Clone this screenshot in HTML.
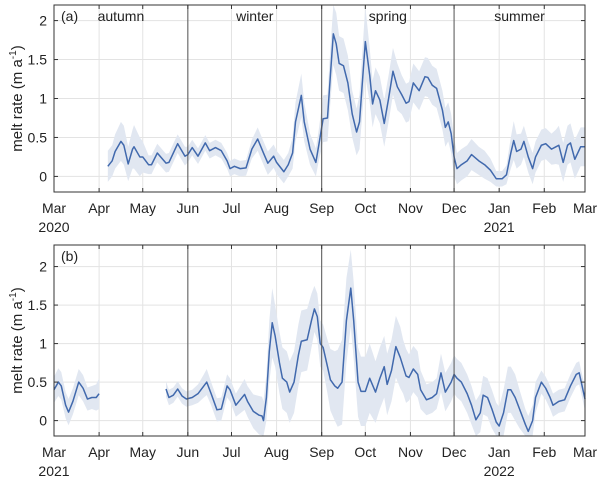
<!DOCTYPE html>
<html><head><meta charset="utf-8"><style>
body{margin:0;background:#fff;font-family:"Liberation Sans",sans-serif;}
svg text{font-family:"Liberation Sans",sans-serif;fill:#222;}
</style></head><body>
<svg id="c" width="600" height="480"></svg>
<script>
const monthLabels=["Mar","Apr","May","Jun","Jul","Aug","Sep","Oct","Nov","Dec","Jan","Feb","Mar"];
const monthDaysA=[0,31,61,92,122,153,184,214,245,275,306,337,365];
const monthDaysB=[0,31,61,92,122,153,184,214,245,275,306,337,365];
const yTicks=[0,0.5,1,1.5,2];
const seasonNames=["autumn","winter","spring","summer"];
const seasonDays=[0,92,184,275,365];
// [day since Mar 1, melt rate, uncertainty]
const seriesA=[[37,0.13,0.2],[40,0.2,0.2],[42,0.32,0.22],[46,0.45,0.25],[48,0.4,0.25],[51,0.16,0.22],[54,0.35,0.25],[55,0.38,0.28],[59,0.25,0.25],[61,0.25,0.2],[65,0.15,0.12],[67,0.15,0.12],[71,0.3,0.12],[77,0.17,0.12],[79,0.18,0.12],[85,0.42,0.12],[90,0.26,0.12],[92,0.28,0.1],[95,0.37,0.1],[99,0.26,0.1],[104,0.43,0.1],[107,0.33,0.1],[111,0.37,0.1],[115,0.33,0.1],[119,0.2,0.1],[121,0.1,0.1],[124,0.13,0.1],[128,0.1,0.1],[132,0.11,0.1],[136,0.35,0.12],[140,0.48,0.15],[144,0.3,0.15],[147,0.17,0.15],[151,0.26,0.15],[153,0.18,0.15],[158,0.06,0.15],[161,0.15,0.15],[164,0.3,0.2],[166,0.7,0.25],[170,1.04,0.28],[172,0.7,0.25],[176,0.35,0.2],[180,0.18,0.18],[182,0.4,0.2],[185,0.74,0.3],[188,0.75,0.3],[190,1.3,0.35],[192,1.83,0.4],[194,1.7,0.4],[196,1.45,0.35],[199,1.42,0.35],[202,1.2,0.35],[205,0.8,0.3],[208,0.57,0.3],[210,0.7,0.35],[214,1.73,0.45],[217,1.3,0.35],[219,0.93,0.3],[221,1.1,0.3],[224,0.98,0.3],[227,0.68,0.3],[230,1.0,0.3],[233,1.35,0.3],[236,1.15,0.3],[239,1.05,0.25],[242,0.94,0.25],[244,0.96,0.25],[247,1.2,0.25],[251,1.1,0.25],[255,1.28,0.25],[257,1.27,0.25],[260,1.17,0.25],[263,1.13,0.25],[267,0.85,0.25],[269,0.63,0.25],[271,0.7,0.25],[273,0.55,0.25],[275,0.25,0.25],[277,0.1,0.2],[280,0.15,0.2],[284,0.2,0.2],[287,0.28,0.2],[292,0.2,0.18],[296,0.15,0.18],[300,0.08,0.15],[304,-0.03,0.1],[308,-0.03,0.1],[311,0.02,0.12],[314,0.3,0.2],[316,0.46,0.25],[318,0.32,0.22],[321,0.35,0.2],[323,0.45,0.2],[326,0.25,0.2],[329,0.1,0.2],[331,0.25,0.2],[335,0.4,0.2],[338,0.42,0.2],[342,0.35,0.2],[345,0.38,0.22],[347,0.4,0.25],[350,0.18,0.25],[353,0.4,0.25],[355,0.43,0.25],[358,0.22,0.25],[362,0.38,0.25],[365,0.38,0.25]];
const seriesB=[[0,0.4,0.17],[3,0.5,0.18],[5,0.45,0.18],[8,0.2,0.17],[10,0.11,0.17],[13,0.25,0.17],[17,0.5,0.17],[20,0.42,0.17],[23,0.28,0.15],[26,0.3,0.15],[29,0.3,0.17],[31,0.35,0.2],null,
[77,0.41,0.1],[79,0.3,0.1],[82,0.33,0.1],[85,0.41,0.1],[88,0.32,0.1],[91,0.28,0.1],[95,0.3,0.1],[99,0.35,0.12],[103,0.45,0.15],[105,0.5,0.17],[108,0.35,0.15],[112,0.14,0.15],[115,0.15,0.15],[119,0.45,0.15],[121,0.4,0.15],[125,0.2,0.15],[131,0.34,0.2],[133,0.25,0.2],[137,0.12,0.22],[141,0.07,0.25],[143,0.06,0.25],[144,0.0,0.25],[146,0.3,0.3],[148,0.9,0.4],[150,1.27,0.45],[152,1.1,0.4],[155,0.75,0.4],[157,0.55,0.4],[160,0.5,0.4],[162,0.37,0.4],[165,0.5,0.4],[168,0.85,0.4],[170,1.03,0.4],[174,1.05,0.4],[177,1.3,0.35],[179,1.45,0.3],[181,1.35,0.3],[183,1.0,0.3],[185,0.95,0.3],[188,0.7,0.35],[190,0.53,0.4],[193,0.45,0.45],[195,0.42,0.5],[198,0.5,0.55],[201,1.3,0.55],[204,1.72,0.5],[206,1.3,0.5],[209,0.5,0.45],[211,0.38,0.45],[214,0.38,0.45],[217,0.55,0.45],[221,0.37,0.4],[224,0.55,0.4],[227,0.7,0.4],[229,0.47,0.4],[232,0.65,0.4],[235,0.96,0.4],[238,0.82,0.4],[240,0.7,0.35],[242,0.58,0.35],[244,0.56,0.3],[247,0.67,0.3],[250,0.6,0.3],[252,0.4,0.25],[256,0.27,0.2],[260,0.3,0.2],[263,0.35,0.2],[266,0.62,0.25],[269,0.37,0.25],[273,0.5,0.25],[275,0.6,0.25],[277,0.55,0.25],[280,0.5,0.25],[284,0.35,0.25],[287,0.2,0.25],[290,0.01,0.25],[293,0.1,0.25],[295,0.33,0.25],[298,0.3,0.25],[301,0.15,0.25],[304,-0.02,0.25],[306,-0.07,0.25],[309,0.1,0.3],[312,0.4,0.3],[314,0.4,0.3],[317,0.3,0.3],[320,0.15,0.25],[324,-0.05,0.2],[326,-0.14,0.2],[329,0.0,0.2],[331,0.3,0.2],[335,0.5,0.15],[338,0.42,0.15],[341,0.3,0.15],[343,0.2,0.15],[347,0.25,0.15],[351,0.27,0.15],[355,0.45,0.15],[359,0.6,0.15],[361,0.62,0.15],[363,0.45,0.15],[365,0.28,0.15]];

const NS="http://www.w3.org/2000/svg";
const svg=document.getElementById('c');
function mk(tag,attrs,parent){const e=document.createElementNS(NS,tag);for(const k in attrs)e.setAttribute(k,attrs[k]);(parent||svg).appendChild(e);return e;}

function panel(cfg){
  const g=mk('g',{});
  
  
  const L=54,R=585,T=cfg.top,B=cfg.bottom;
  const x=d=>L+(R-L)*d/365;
  const y=v=>B-(B-T)*(v-cfg.ymin)/(cfg.ymax-cfg.ymin);
  cfg.months.forEach(d=>{const l=mk('line',{x1:x(d),x2:x(d),y1:T,y2:B,stroke:'#e3e3e3','stroke-width':1},g);
    });
  yTicks.forEach(v=>{const l=mk('line',{x1:L,x2:R,y1:y(v),y2:y(v),stroke:'#e3e3e3','stroke-width':1},g);
    });
  const segs=[];let cur=[];
  cfg.data.forEach(p=>{if(p===null){if(cur.length)segs.push(cur);cur=[];}else cur.push(p);});
  if(cur.length)segs.push(cur);
  segs.forEach(s=>{
    let up=s.map(p=>x(p[0])+','+Math.max(T,y(p[1]+p[2])));
    let lo=s.slice().reverse().map(p=>x(p[0])+','+Math.min(B,y(p[1]-p[2])));
    const band=mk('polygon',{points:up.concat(lo).join(' '),fill:'#e1e7f1',stroke:'none'},g);
    
  });
  segs.forEach(s=>{
    const ln=mk('polyline',{points:s.map(p=>x(p[0])+','+y(p[1])).join(' '),fill:'none',stroke:'#4169ad','stroke-width':1.5,'stroke-linejoin':'round'},g);
    
  });
  [seasonDays[1],seasonDays[2],seasonDays[3]].forEach(d=>{const l=mk('line',{x1:x(d),x2:x(d),y1:T,y2:B,stroke:'#555','stroke-width':1},g);
    });
  if(cfg.seasons){seasonNames.forEach((n,i)=>{const t=mk('text',{x:(x(seasonDays[i])+x(seasonDays[i+1]))/2,y:T+16,'font-size':14,'text-anchor':'middle'},g);t.textContent=n;
    });}
  const bx=mk('rect',{x:L,y:T,width:R-L,height:B-T,fill:'none',stroke:'#333','stroke-width':1},g);
  
  yTicks.forEach(v=>{mk('line',{x1:L,x2:L+4,y1:y(v),y2:y(v),stroke:'#333'},g);mk('line',{x1:R,x2:R-4,y1:y(v),y2:y(v),stroke:'#333'},g);
    const t=mk('text',{x:L-7,y:y(v)+5,'font-size':14,'text-anchor':'end'},g);t.textContent=v;
    });
  cfg.months.forEach((d,i)=>{mk('line',{x1:x(d),x2:x(d),y1:B,y2:B-4,stroke:'#333'},g);mk('line',{x1:x(d),x2:x(d),y1:T,y2:T+4,stroke:'#333'},g);
    const t=mk('text',{x:x(d),y:B+21,'font-size':14,'text-anchor':'middle'},g);t.textContent=monthLabels[i];
    });
  cfg.years.forEach(yr=>{const t=mk('text',{x:x(yr[0]),y:B+40,'font-size':14,'text-anchor':'middle'},g);t.textContent=yr[1];
    });
  const pl=mk('text',{x:L+7,y:T+16,'font-size':14},g);pl.textContent=cfg.label;
  
  const yl=mk('text',{transform:`translate(22,${(T+B)/2}) rotate(-90)`,'font-size':15,'text-anchor':'middle'},g);
  yl.innerHTML='melt rate (m a<tspan dy="-6" font-size="10">-1</tspan><tspan dy="6">)</tspan>';
  
}
panel({name:'panel-a',top:5,bottom:192,ymin:-0.2,ymax:2.2,data:seriesA,months:monthDaysA,seasons:true,label:'(a)',years:[[0,'2020'],[306,'2021']]});
panel({name:'panel-b',top:245,bottom:436,ymin:-0.2,ymax:2.28,data:seriesB,months:monthDaysB,seasons:false,label:'(b)',years:[[0,'2021'],[306,'2022']]});
</script>
</body></html>
